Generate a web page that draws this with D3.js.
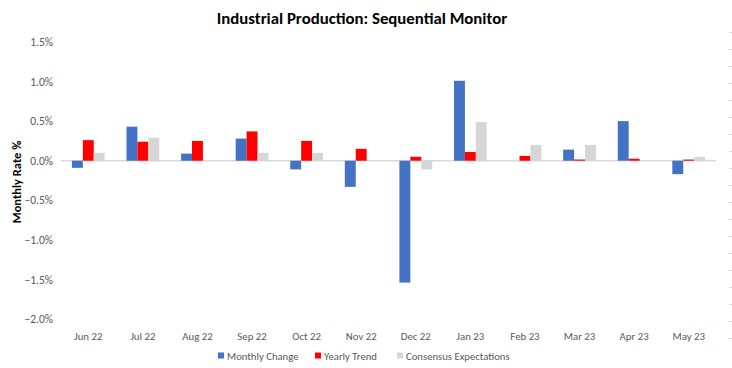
<!DOCTYPE html>
<html>
<head>
<meta charset="utf-8">
<script src="https://cdn.jsdelivr.net/npm/d3@7"></script>
<style>
  body { margin: 0; background: #fff; }
  text { font-family: Carlito, "Noto Sans", sans-serif; }
</style>
</head>
<body>
<div id="chart"></div>
<script>
// monthly readings, percent
var months = ['Jun 22', 'Jul 22', 'Aug 22', 'Sep 22', 'Oct 22', 'Nov 22',
              'Dec 22', 'Jan 23', 'Feb 23', 'Mar 23', 'Apr 23', 'May 23'];
var monthlyChange = [-0.09, 0.43, 0.09, 0.28, -0.11, -0.33, -1.54, 1.01, 0.00, 0.14, 0.50, -0.17];
var yearlyTrend = [0.26, 0.24, 0.25, 0.37, 0.25, 0.15, 0.05, 0.11, 0.06, 0.015, 0.025, 0.015];
var consensus = [0.10, 0.29, 0.00, 0.10, 0.10, 0.00, -0.11, 0.49, 0.20, 0.20, 0.00, 0.05];
var yTicks = [-2.0, -1.5, -1.0, -0.5, 0.0, 0.5, 1.0, 1.5];

var seriesNames = ['Monthly Change', 'Yearly Trend', 'Consensus Expectations'];
var seriesColors = ['#4472C4', '#FF0000', '#D6D6D6'];

var width = 732;
var height = 368;

var svg = d3.select('#chart')
  .append('svg')
  .attr('width', width)
  .attr('height', height);

//build rows: one per month with the three values
var rows = months.map(function(m, i) {
  return { month: m, values: [monthlyChange[i], yearlyTrend[i], consensus[i]] };
});

var x = d3.scaleBand()
  .domain(months)
  .range([61, 716]);

//bars sit in the middle 60% of each band
var inner = d3.scaleBand()
  .domain([0, 1, 2])
  .range([x.bandwidth() * 0.2, x.bandwidth() * 0.8]);

var y = d3.scaleLinear()
  .domain([-2, 1.5])
  .range([319, 42]);

//title
svg.append('text')
  .attr('x', 362)
  .attr('y', 24)
  .attr('text-anchor', 'middle')
  .style('font-weight', 'bold')
  .style('font-size', '16.8px')
  .attr('fill', '#000')
  .text('Industrial Production: Sequential Monitor');

//y axis title
svg.append('text')
  .attr('transform', 'translate(21,182) rotate(-90)')
  .attr('text-anchor', 'middle')
  .style('font-weight', 'bold')
  .style('font-size', '12.5px')
  .attr('fill', '#000')
  .text('Monthly Rate %');

//left axis, labels only
var yAxis = svg.append('g')
  .attr('transform', 'translate(53,0)')
  .call(d3.axisLeft(y).tickValues(yTicks).tickSize(0).tickPadding(0)
    .tickFormat(function(d) { return d3.format('.1f')(d) + '%'; }));
yAxis.select('.domain').remove();
yAxis.selectAll('text')
  .attr('fill', '#595959')
  .style('font-size', '11.5px');

//zero line (drawn first so tiny bars still show)
svg.append('line')
  .attr('x1', x.range()[0])
  .attr('x2', x.range()[1])
  .attr('y1', y(0))
  .attr('y2', y(0))
  .attr('stroke', '#D9D9D9')
  .attr('stroke-width', 1.5);

//bars
var groups = svg.selectAll('g.month')
  .data(rows)
  .enter()
  .append('g')
  .attr('class', 'month')
  .attr('transform', function(d) { return 'translate(' + x(d.month) + ',0)'; });

groups.selectAll('rect')
  .data(function(d) { return d.values; })
  .enter()
  .append('rect')
  .attr('x', function(d, i) { return inner(i); })
  .attr('width', inner.bandwidth())
  .attr('y', function(d) { return y(Math.max(0, d)); })
  .attr('height', function(d) { return Math.abs(y(d) - y(0)); })
  .attr('fill', function(d, i) { return seriesColors[i]; });

//x labels
var xAxis = svg.append('g')
  .attr('transform', 'translate(0,329)')
  .call(d3.axisBottom(x).tickSize(0));
xAxis.select('.domain').remove();
xAxis.selectAll('text')
  .attr('fill', '#595959')
  .style('font-size', '10.8px');

//right side secondary axis: minor tick marks only
var y2 = d3.scaleLinear().domain([0, 18]).range([338, 32]);
var rightAxis = svg.append('g')
  .attr('transform', 'translate(729,0)')
  .call(d3.axisRight(y2).ticks(18).tickSize(3).tickFormat(''));
rightAxis.select('.domain').remove();
rightAxis.selectAll('line').attr('stroke', '#D9D9D9');

//legend
var legendX = [218, 315, 397];
var legend = svg.selectAll('g.legend')
  .data(seriesNames)
  .enter()
  .append('g')
  .attr('class', 'legend')
  .attr('transform', function(d, i) { return 'translate(' + legendX[i] + ',356)'; });

legend.append('rect')
  .attr('x', 0)
  .attr('y', -3.5)
  .attr('width', 6)
  .attr('height', 6)
  .attr('fill', function(d, i) { return seriesColors[i]; });

legend.append('text')
  .attr('x', 9)
  .attr('y', 0)
  .attr('dy', '0.35em')
  .attr('fill', '#595959')
  .style('font-size', '10.7px')
  .text(function(d) { return d; });
</script>
</body>
</html>
